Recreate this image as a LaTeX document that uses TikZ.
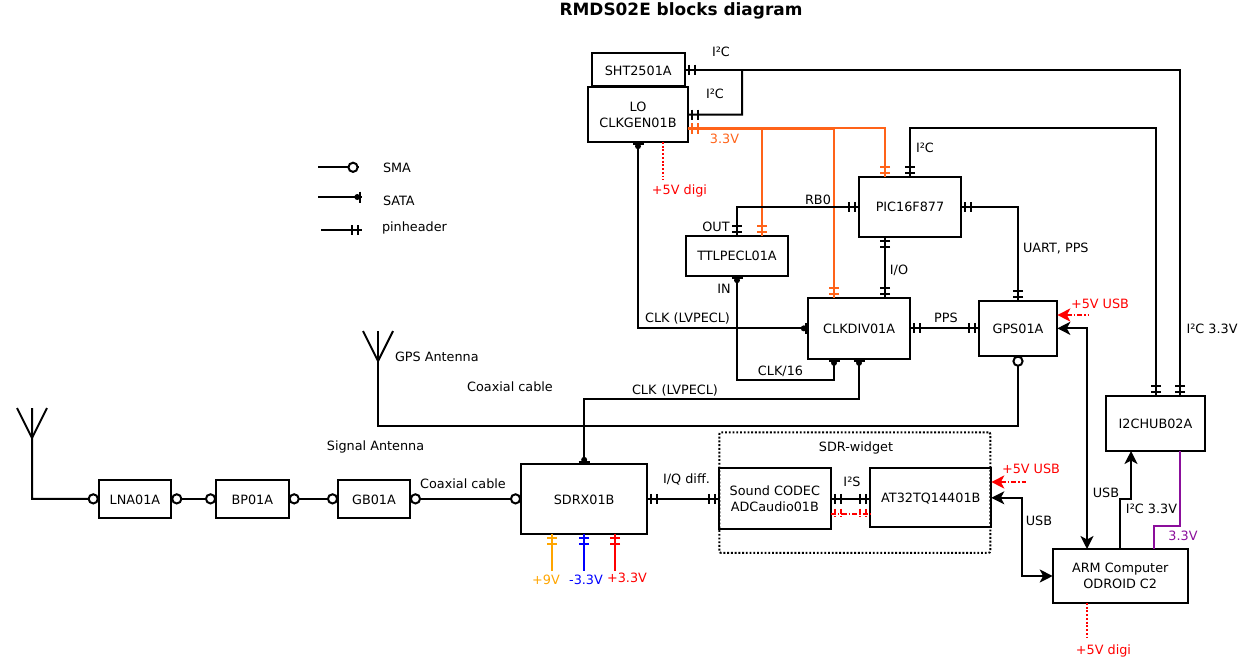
\documentclass[tikz,border=0pt]{standalone}
\usepackage{fontspec}
\setmainfont{DejaVu Sans}
\usetikzlibrary{arrows.meta,decorations.markings}
\definecolor{orgline}{HTML}{FF6319}
\definecolor{yel}{HTML}{FFA500}
\definecolor{pur}{HTML}{8B0E9B}
\newcommand{\blk}[6]{\node[blk,minimum width={(#4-#2)*0.75pt},minimum height={(#5-#3)*0.75pt}] (#1) at ({(#2+#4)/2},{(#3+#5)/2}) {#6};}
\newcommand{\lowr}{\rule{0pt}{8.2pt}}
\tikzset{
  wire/.style={line width=1.5pt,line join=miter},
  blk/.style={draw,line width=1.5pt,inner sep=0pt,outer sep=0pt,align=center,font=\fontsize{9.6}{12}\selectfont},
  lbl/.style={inner sep=0pt,outer sep=0pt,font=\fontsize{9.6}{12}\selectfont},
  pinS/.style={postaction={decorate,decoration={markings,
    mark=at position 3pt with {\draw[line width=1.5pt] (0,-5)--(0,5);},
    mark=at position 7.5pt with {\draw[line width=1.5pt] (0,-5)--(0,5);}}}},
  pinE/.style={postaction={decorate,decoration={markings,
    mark=at position -3pt with {\draw[line width=1.5pt] (0,-5)--(0,5);},
    mark=at position -7.5pt with {\draw[line width=1.5pt] (0,-5)--(0,5);}}}},
  smaS/.style={postaction={decorate,decoration={markings,
    mark=at position 4.1pt with {\draw[line width=1.5pt,fill=white] (0,0) circle[radius=4.6];}}}},
  smaE/.style={postaction={decorate,decoration={markings,
    mark=at position -4.1pt with {\draw[line width=1.5pt,fill=white] (0,0) circle[radius=4.6];}}}},
  sataS/.style={postaction={decorate,decoration={markings,
    mark=at position 1.5pt with {\draw[line width=1.5pt] (0,-5.5)--(0,5.5);\fill (2.2,0) circle[radius=3];}}}},
  sataE/.style={postaction={decorate,decoration={markings,
    mark=at position -1.5pt with {\draw[line width=1.5pt] (0,-5.5)--(0,5.5);\fill (-2.2,0) circle[radius=3];}}}},
  dblarrow/.style={{Stealth[length=9.75pt,width=9.75pt,inset=2.6pt]}-{Stealth[length=9.75pt,width=9.75pt,inset=2.6pt]}},
  endarrow/.style={-{Stealth[length=9.75pt,width=9.75pt,inset=2.6pt]}},
  startarrow/.style={{Stealth[length=9.75pt,width=9.75pt,inset=2.6pt]}-},
  pwrfeed/.style={wire,red,dash pattern=on 4pt off 1.5pt on 1pt off 1.5pt},
  digi/.style={wire,red,dash pattern=on 1.4pt off 1.4pt},
}
\begin{document}
\begin{tikzpicture}[x=0.75pt,y=-0.75pt]
\useasboundingbox (0,0) rectangle (1239,658);

% dotted group
\node[draw,line width=1.5pt,dash pattern=on 1.4pt off 1.4pt,rounded corners=1.5pt,inner sep=0pt,outer sep=0pt,minimum width={271*0.75pt},minimum height={120.7*0.75pt}] (widget) at (854.8,492.6) {};

% blocks
\blk{sht}{591.7}{53.3}{684.7}{86}{\lowr SHT2501A}
\blk{lo}{588.3}{87.3}{687.7}{142}{LO\\CLKGEN01B}
\blk{ttl}{686}{236}{788}{276}{TTLPECL01A}
\blk{pic}{859}{177}{961}{237}{PIC16F877}
\blk{div}{808}{298}{910.3}{358.7}{CLKDIV01A}
\blk{gps}{978.7}{301}{1057.3}{355.7}{\lowr GPS01A}
\blk{hub}{1106}{396}{1205}{451}{I2CHUB02A}
\blk{arm}{1052.7}{549}{1187.7}{603}{ARM Computer\\ODROID C2}
\blk{sdrx}{521}{464}{647.3}{533.7}{\lowr SDRX01B}
\blk{codec}{719}{468.3}{830.7}{529.4}{Sound CODEC\\ADCaudio01B}
\blk{at}{870.3}{468.3}{991.3}{527.3}{\lowr AT32TQ14401B}
\blk{lna}{98.7}{480}{171.3}{517.7}{\lowr LNA01A}
\blk{bp}{216}{480}{288.7}{517.7}{\lowr BP01A}
\blk{gb}{338}{480}{410}{517.7}{\lowr GB01A}

% ports and free ends
\coordinate (loPwr) at (687.7,128);
\coordinate (loPwrB) at (687.7,128.7);
\coordinate (loDigi) at (663,142);
\coordinate (loDigiEnd) at (663,180);
\coordinate (picPwr) at (885,177);
\coordinate (ttlPwr) at (762,236);
\coordinate (divPwr) at (834,298);
\coordinate (picIO) at (885,237);
\coordinate (divIO) at (885,298);
\coordinate (divA) at (834,358.7);
\coordinate (divB) at (859,358.7);
\coordinate (hubA) at (1156,396);
\coordinate (hubB) at (1180,396);
\coordinate (hubU) at (1131,451);
\coordinate (hubP) at (1180,451);
\coordinate (armU) at (1087,549);
\coordinate (armP) at (1154,549);
\coordinate (armDigi) at (1087,603);
\coordinate (armDigiEnd) at (1087,640);
\coordinate (gpsPwr) at (1057.3,315);
\coordinate (gpsPwrEnd) at (1088,315);
\coordinate (atPwr) at (991.3,482);
\coordinate (atPwrEnd) at (1026,482);
\coordinate (codecX) at (830.7,513.5);
\coordinate (atX) at (870.3,513.5);
\coordinate (sdrA) at (552,533.7);
\coordinate (sdrB) at (584,533.7);
\coordinate (sdrC) at (615,533.7);
\coordinate (sdrAend) at (552,571);
\coordinate (sdrBend) at (584,571);
\coordinate (sdrCend) at (615,571);
\coordinate (antA) at (32,408);
\coordinate (antAl) at (17,408);
\coordinate (antAr) at (47,408);
\coordinate (antAm) at (32,438);
\coordinate (antG) at (378,331);
\coordinate (antGl) at (363,331);
\coordinate (antGr) at (393,331);
\coordinate (antGm) at (378,361);
\coordinate (legA0) at (318,167.3);
\coordinate (legA1) at (358.5,167.3);
\coordinate (legB0) at (318,197);
\coordinate (legB1) at (361.5,197);
\coordinate (legC0) at (321,230);
\coordinate (legC1) at (361.5,230);

% 3.3 V rail
\draw[wire,orgline,pinS,pinE] (loPwrB) -| (ttlPwr);
\draw[wire,orgline,pinE] (loPwrB) -| (divPwr);
\draw[wire,orgline,pinS,pinE] (loPwr) -| (picPwr);

% connectors
\draw[wire,pinS,pinE] (sht.east) -| (hubB);
\draw[wire,pinS] (lo.east) -- ++(54.3,0) -- (742,70);
\draw[wire,pinS,pinE] (pic.north) -- ++(0,-49) -| (hubA);
\draw[wire,sataS,sataE] (lo.south) |- (div.west);
\draw[wire,pinS,pinE] (ttl.north) |- (pic.west);
\draw[wire,pinS,pinE] (picIO) -- (divIO);
\draw[wire,pinS,pinE] (pic.east) -| (gps.north);
\draw[wire,pinS,pinE] (div.east) -- (gps.west);
\draw[wire,sataS,sataE] (divA) -- ++(0,21) -| (ttl.south);
\draw[wire,sataS,sataE] (sdrx.north) -- ++(0,-65) -| (divB);
\draw[wire,smaE] (antG) -- (378,426) -| (gps.south);
\draw[wire] (antGl) -- (antGm) -- (antGr);
\draw[wire,dblarrow] (gps.east) -| (armU);
\draw[wire,dblarrow] (at.east) -- ++(31,0) |- (arm.west);
\draw[wire,endarrow] (arm.north) -- ++(0,-50) -| (hubU);
\draw[wire,pur] (hubP) -- ++(0,75) -| (armP);
\draw[pwrfeed,startarrow] (gpsPwr) -- (gpsPwrEnd);
\draw[pwrfeed,startarrow] (atPwr) -- (atPwrEnd);
\draw[digi] (loDigi) -- (loDigiEnd);
\draw[digi] (armDigi) -- (armDigiEnd);
\draw[wire,pinS,pinE] (sdrx.east) -- (codec.west);
\draw[wire,pinS,pinE] (codec.east) -- (codec.east -| at.west);
\draw[pwrfeed,pinS,pinE] (codecX) -- (atX);
\draw[wire,yel,pinS] (sdrA) -- (sdrAend);
\draw[wire,blue,pinS] (sdrB) -- (sdrBend);
\draw[wire,red,pinS] (sdrC) -- (sdrCend);
\draw[wire,smaE] (antA) -- (32,498.85) -- (lna.west);
\draw[wire] (antAl) -- (antAm) -- (antAr);
\draw[wire,smaS,smaE] (lna.east) -- (bp.west);
\draw[wire,smaS,smaE] (bp.east) -- (gb.west);
\draw[wire,smaS,smaE] (gb.east) -- (sdrx.west);

% legend
\draw[wire,smaE] (legA0) -- (legA1);
\draw[wire,sataE] (legB0) -- (legB1);
\draw[wire,pinE] (legC0) -- (legC1);

% labels
\node[font=\fontsize{12.7}{15}\selectfont\bfseries,inner sep=0pt] (title) at (681,11) {RMDS02E blocks diagram};
\node[lbl] (t1) at (721,52) {I²C};
\node[lbl] (t2) at (715,94) {I²C};
\node[lbl,text=orgline] (t3) at (724.5,139) {3.3V};
\node[lbl,text=red] (t4) at (679.5,191) {+5V digi};
\node[lbl,anchor=west] (t5) at (383,168) {SMA};
\node[lbl,anchor=west] (t6) at (383,201) {SATA};
\node[lbl,anchor=west] (t7) at (382,228) {pinheader};
\node[lbl] (t8) at (818,200) {RB0};
\node[lbl] (t9) at (716,227) {OUT};
\node[lbl] (t10) at (724,289) {IN};
\node[lbl] (t11) at (925,148) {I²C};
\node[lbl,anchor=west] (t12) at (1023,248.7) {UART, PPS};
\node[lbl] (t13) at (899,270) {I/O};
\node[lbl,text=red] (t14) at (1100,304) {+5V USB};
\node[lbl] (t15) at (946,318) {PPS};
\node[lbl] (t16) at (687.5,318.7) {CLK (LVPECL)};
\node[lbl] (t17) at (780.5,371) {CLK/16};
\node[lbl] (t18) at (675,390.5) {CLK\hspace{0.8pt} (LVPECL)};
\node[lbl,anchor=west] (t19) at (395,357) {GPS Antenna};
\node[lbl] (t20) at (510,387) {Coaxial cable};
\node[lbl] (t21) at (375.5,447) {Signal Antenna};
\node[lbl] (t22) at (463,484) {Coaxial cable};
\node[lbl] (t23) at (686.5,479) {I/Q diff.};
\node[lbl] (t24) at (856,448) {SDR-widget};
\node[lbl] (t25) at (852,482) {I²S};
\node[lbl,text=red] (t26) at (1031,469) {+5V USB};
\node[lbl] (t27) at (1039,521) {USB};
\node[lbl] (t28) at (1106,493) {USB};
\node[lbl] (t29) at (1151.5,509) {I²C 3.3V};
\node[lbl,text=pur] (t30) at (1183,536) {3.3V};
\node[lbl] (t31) at (1212,329) {I²C 3.3V};
\node[lbl,text=yel] (t32) at (546,580) {+9V};
\node[lbl,text=blue] (t33) at (586,580) {-3.3V};
\node[lbl,text=red] (t34) at (627,578) {+3.3V};
\node[lbl,text=red] (t35) at (1103.5,651) {+5V digi};
\end{tikzpicture}
\end{document}
